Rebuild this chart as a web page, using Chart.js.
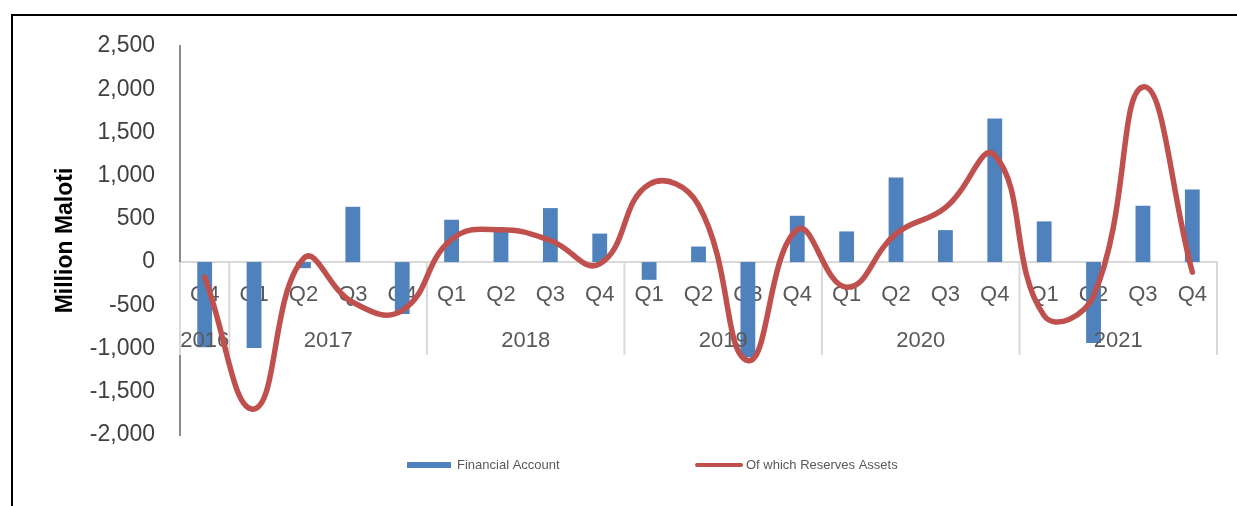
<!DOCTYPE html>
<html>
<head>
<meta charset="utf-8">
<script src="https://cdn.jsdelivr.net/npm/chart.js@4/dist/chart.umd.min.js"></script>
<style>
  html, body { margin: 0; padding: 0; background: #fff; }
  #wrap { position: relative; width: 1237px; height: 506px; overflow: hidden; }
  #frame {
    position: absolute; left: 11px; top: 14px; width: 1300px; height: 600px;
    border-left: 2px solid #000; border-top: 2px solid #000; pointer-events: none;
  }
  canvas { position: absolute; left: 0; top: 0; }
</style>
</head>
<body>
<div id="wrap">
  <canvas id="fxChart" width="1237" height="506"></canvas>
  <div id="frame"></div>
</div>
<script>
/* ── DATA ── */
const quarters = ["Q4",
  "Q1", "Q2", "Q3", "Q4",
  "Q1", "Q2", "Q3", "Q4",
  "Q1", "Q2", "Q3", "Q4",
  "Q1", "Q2", "Q3", "Q4",
  "Q1", "Q2", "Q3", "Q4"];
const years = ["2016", "2017", "2018", "2019", "2020", "2021"];
const quartersPerYear = [1, 4, 4, 4, 4, 4];

const financialAccount = [-985, -995, -70, 640, -600,
  490, 350, 625, 330,
  -205, 180, -1100, 536,
  355, 980, 370, 1660,
  471, -935, 652, 841];
const reserveAssets = [-175, -1700, 40, -465, -560,
  262, 374, 250, -20,
  900, 660, -1140, 374,
  -290, 328, 630, 1235,
  -620, -390, 2026, -116];

const yMin = -2000, yMax = 2500, yStep = 500;

const BLUE = "#4f81bd";
const RED = "#c0504d";
const TEXT = "#595959";

/* ── multi-level category axis (years + separators) ── */
const yearAxis = {
  id: "yearAxis",
  afterDatasetDraw(chart, args) {
    if (args.meta.type !== "bar") return;
    const ctx = chart.ctx;
    const xs = chart.scales.x, ys = chart.scales.y;
    const y0 = ys.getPixelForValue(0);
    const half = (xs.getPixelForValue(1) - xs.getPixelForValue(0)) / 2;
    ctx.save();
    // separators between years
    let idx = 0;
    const edges = [xs.getPixelForValue(0) - half];
    quartersPerYear.forEach((n) => {
      idx += n;
      edges.push(xs.getPixelForValue(idx - 1) + half);
    });
    ctx.lineWidth = 2;
    edges.forEach((x) => {
      ctx.strokeStyle = "#fff";
      ctx.beginPath(); ctx.moveTo(x, y0 + 1); ctx.lineTo(x, y0 + 93); ctx.stroke();
      ctx.strokeStyle = "#d9d9d9";
      ctx.beginPath(); ctx.moveTo(x, y0); ctx.lineTo(x, y0 + 93); ctx.stroke();
    });
    // year labels
    ctx.fillStyle = TEXT;
    ctx.font = "22px 'Liberation Sans', Arial, sans-serif";
    ctx.textAlign = "center";
    ctx.textBaseline = "middle";
    years.forEach((yr, i) => {
      ctx.fillText(yr, (edges[i] + edges[i + 1]) / 2, y0 + 79);
    });
    ctx.restore();
  }
};

/* ── legend ── */
const bottomLegend = {
  id: "bottomLegend",
  afterDraw(chart) {
    const ctx = chart.ctx;
    const ds = chart.data.datasets;
    const y = 465;
    ctx.save();
    ctx.font = "13px 'Liberation Sans', Arial, sans-serif";
    ctx.textBaseline = "middle";
    ctx.textAlign = "left";
    ctx.fillStyle = BLUE;
    ctx.fillRect(407, y - 3, 44, 6);
    ctx.fillStyle = TEXT;
    ctx.fillText(ds[0].label, 457, y);
    ctx.strokeStyle = RED;
    ctx.lineWidth = 4;
    ctx.lineCap = "round";
    ctx.beginPath(); ctx.moveTo(697, y); ctx.lineTo(741, y); ctx.stroke();
    ctx.fillStyle = TEXT;
    ctx.fillText(ds[1].label, 746, y);
    ctx.restore();
  }
};

const ctx = document.getElementById("fxChart").getContext("2d");
new Chart(ctx, {
  type: "bar",
  data: {
    labels: quarters,
    datasets: [
      {
        type: "bar",
        label: "Financial Account",
        data: financialAccount,
        backgroundColor: BLUE,
        borderWidth: 0,
        categoryPercentage: 1,
        barPercentage: 0.3,
        order: 1,
      },
      {
        type: "line",
        label: "Of which Reserves Assets",
        data: reserveAssets,
        borderColor: RED,
        borderWidth: 5.5,
        pointRadius: 0,
        tension: 0.45,
        borderCapStyle: "round",
        borderJoinStyle: "round",
        fill: false,
        order: 0,
      },
    ],
  },
  options: {
    responsive: false,
    animation: false,
    layout: { padding: { top: 46, right: 20, bottom: 71, left: 0 } },
    plugins: {
      legend: { display: false },
      tooltip: { enabled: false },
    },
    scales: {
      x: {
        position: { y: 0 },
        z: 1,
        offset: true,
        grid: { display: false, drawTicks: false },
        border: { display: true, color: "#d9d9d9", width: 2 },
        ticks: {
          color: TEXT,
          padding: 20,
          maxRotation: 0,
          autoSkip: false,
          font: { family: "'Liberation Sans', Arial, sans-serif", size: 22 },
        },
      },
      y: {
        min: yMin,
        max: yMax,
        afterFit: (scale) => { scale.width = 180; },
        grid: { display: false, drawTicks: false },
        border: { display: true, color: "#8c8c8c", width: 2 },
        ticks: {
          stepSize: yStep,
          color: "#404040",
          padding: 25,
          font: { family: "'Liberation Sans', Arial, sans-serif", size: 23 },
          callback: (v) => v.toLocaleString("en-US"),
        },
        title: {
          display: true,
          text: "Million Maloti",
          color: "#000",
          padding: { top: 52, bottom: 0 },
          font: { family: "'Liberation Sans', Arial, sans-serif", size: 23, weight: "bold" },
        },
      },
    },
  },
  plugins: [yearAxis, bottomLegend],
});
</script>
</body>
</html>
